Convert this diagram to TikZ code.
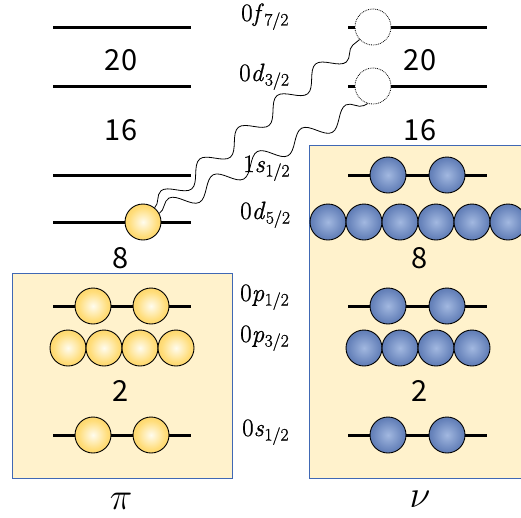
\documentclass[tikz,border=0pt]{standalone}
\usepackage{fix-cm}
\usepackage{fontspec}
\usetikzlibrary{decorations.pathmorphing}
\newfontfamily\magicfont{Noto Sans CJK JP}
\newfontfamily\orbfont{Latin Modern Roman}[FakeBold=0.9]
\newcommand{\orbital}[3]{#1\textit{#2}\kern0.5pt\textsubscript{#3}}

\definecolor{boxfill}{HTML}{FFF2CC}
\definecolor{boxline}{HTML}{4068B4}
\definecolor{yA}{HTML}{FFFCEE}
\definecolor{yB}{HTML}{FFDD7A}
\definecolor{yC}{HTML}{F6C244}
\definecolor{yD}{HTML}{EAAA28}
\definecolor{bA}{HTML}{A2B8E0}
\definecolor{bB}{HTML}{6682BA}
\definecolor{bC}{HTML}{47659C}
\definecolor{bD}{HTML}{344F80}

\pgfdeclareradialshading{protonball}{\pgfpointorigin}{%
  color(0bp)=(yA); color(20bp)=(yB); color(42bp)=(yC); color(50bp)=(yD)}
\pgfdeclareradialshading{neutronball}{\pgfpointorigin}{%
  color(0bp)=(bA); color(22bp)=(bB); color(42bp)=(bC); color(50bp)=(bD)}

\tikzset{
  lvl/.style={line width=3pt},
  pball/.style={circle, draw, line width=0.9pt, minimum size=36pt, inner sep=0pt, shading=protonball},
  nball/.style={circle, draw, line width=0.9pt, minimum size=36pt, inner sep=0pt, shading=neutronball},
  hole/.style={circle, draw, densely dotted, line width=0.8pt, fill=white, minimum size=36pt, inner sep=0pt},
  magic/.style={font=\magicfont\fontsize{29}{32}\selectfont, inner sep=0pt},
  orb/.style={anchor=base west, inner sep=0pt, font=\orbfont\fontsize{25}{29}\selectfont},
  iso/.style={inner sep=0pt, font=\fontsize{38}{42}\selectfont},
  shellbox/.style={fill=boxfill, draw=boxline, line width=0.9pt},
  wave/.style={decorate, decoration={snake, segment length=50pt, amplitude=9pt}, line width=0.8pt}
}

\begin{document}
\begin{tikzpicture}[x=1pt, y=-1pt]
  \useasboundingbox (0,0) rectangle (521,517);

  % filled shells
  \draw[shellbox] (12,273) rectangle (232,478);
  \draw[shellbox] (309,145) rectangle (530,478);

  % proton levels
  \foreach \y in {27,86,175,222,306,435}
    \draw[lvl] (53,\y) -- (191,\y);
  % neutron levels
  \foreach \y in {27,86,175,306,435}
    \draw[lvl] (348,\y) -- (487,\y);

  % magic numbers
  \node[magic] (pm20) at (121,60) {20};
  \node[magic] (pm16) at (121,130) {16};
  \node[magic] (pm8)  at (121,258) {8};
  \node[magic] (pm2)  at (121,391) {2};
  \node[magic] (nm20) at (420,60) {20};
  \node[magic] (nm16) at (420,130) {16};
  \node[magic] (nm8)  at (420,258) {8};
  \node[magic] (nm2)  at (420,391) {2};

  % protons
  \node[pball] (pb) at (143,222) {};
  \node[pball] (pp1) at (93,306) {};
  \node[pball] (pp2) at (151,306) {};
  \node[pball] (pq1) at (68,348) {};
  \node[pball] (pq2) at (104,348) {};
  \node[pball] (pq3) at (140,348) {};
  \node[pball] (pq4) at (176,348) {};
  \node[pball] (ps1) at (93,435) {};
  \node[pball] (ps2) at (151,435) {};

  % neutrons
  \node[nball] (ns11) at (388,175) {};
  \node[nball] (ns12) at (447,175) {};
  \node[nball] (nd1) at (328,222) {};
  \node[nball] (nd2) at (364,222) {};
  \node[nball] (nd3) at (400,222) {};
  \node[nball] (nd4) at (436,222) {};
  \node[nball] (nd5) at (472,222) {};
  \node[nball] (nd6) at (508,222) {};
  \node[nball] (np1) at (388,306) {};
  \node[nball] (np2) at (447,306) {};
  \node[nball] (nq1) at (364,348) {};
  \node[nball] (nq2) at (400,348) {};
  \node[nball] (nq3) at (436,348) {};
  \node[nball] (nq4) at (472,348) {};
  \node[nball] (ns1) at (388,435) {};
  \node[nball] (ns2) at (447,435) {};

  % empty neutron states
  \node[hole] (h1) at (373,27) {};
  \node[hole] (h2) at (373,86) {};

  % orbital labels
  \node[orb] (lf72) at (241,21)  {\orbital{0}{f}{7/2}};
  \node[orb] (ld32) at (239,81)  {\orbital{0}{d}{3/2}};
  \node[orb] (ls12) at (243,172) {\orbital{1}{s}{1/2}};
  \node[orb] (ld52) at (240,219) {\orbital{0}{d}{5/2}};
  \node[orb] (lp12) at (240,301) {\orbital{0}{p}{1/2}};
  \node[orb] (lp32) at (240,342) {\orbital{0}{p}{3/2}};
  \node[orb] (l0s)  at (242,436) {\orbital{0}{s}{1/2}};

  % isospin labels
  \node[iso] (pi) at (121,501) {$\pi$};
  \node[iso] (nu) at (420,499) {$\nu$};

  % pair excitation
  \draw[wave] (pb.51) -- (h1.223);
  \draw[wave] (pb.28) -- (h2.253);
\end{tikzpicture}
\end{document}
